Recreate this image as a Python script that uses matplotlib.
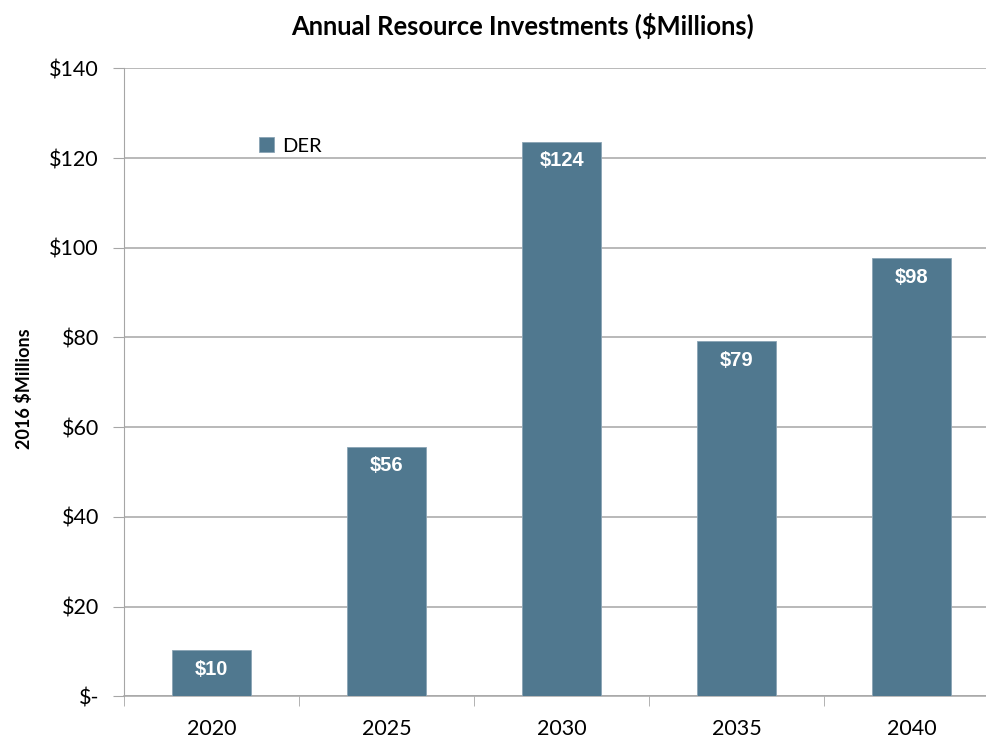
import matplotlib.pyplot as plt
import numpy as np

# Annual DER investment, 2016 $Millions
years = ["2020", "2025", "2030", "2035", "2040"]
der = [10.3, 55.6, 123.6, 79.2, 97.7]
yticks = [0, 20, 40, 60, 80, 100, 120, 140]
ytick_labels = ["$-", "$20", "$40", "$60", "$80", "$100", "$120", "$140"]

bar_color = "#50788f"
grid_color = "#a6a6a6"

plt.rcParams["font.family"] = ["Lato", "DejaVu Sans"]

W, H = 986, 735
fig = plt.figure(figsize=(W / 100, H / 100), dpi=100)
x0, x1 = 124, 124 + 875
y0, y1 = 696.3, 68.3
ax = fig.add_axes([x0 / W, (H - y0) / H, (x1 - x0) / W, (y0 - y1) / H])

x = np.arange(len(years))
bars = ax.bar(x, der, width=0.446, color=bar_color, edgecolor="#8aa4b5",
              linewidth=0.6, label="DER", zorder=3)

for b, v in zip(bars, der):
    ax.annotate(f"${v:.0f}", (b.get_x() + b.get_width() / 2, v),
                xytext=(0, -19), textcoords="offset pixels",
                ha="center", va="center", color="white", fontsize=14.5,
                fontweight="bold", family="Liberation Sans", zorder=4)

ax.set_xlim(-0.5, len(years) - 0.5)
ax.set_ylim(0, 140)
ax.set_yticks(yticks)
ax.set_yticklabels(ytick_labels, fontsize=15.5)
ax.set_xticks(x)
ax.set_xticklabels(years, fontsize=15.5)
ax.set_xticks(np.arange(len(years) + 1) - 0.5, minor=True)
ax.tick_params(axis="x", which="major", length=0, pad=16)
ax.tick_params(axis="x", which="minor", length=7, color=grid_color, direction="out")
ax.tick_params(axis="y", length=8, color=grid_color, pad=10)

ax.yaxis.grid(True, color=grid_color, linewidth=1.1, zorder=0)
ax.set_axisbelow(True)
for side in ["top", "right"]:
    ax.spines[side].set_visible(False)
ax.spines["left"].set_color(grid_color)
ax.spines["bottom"].set_color(grid_color)
ax.spines["bottom"].set_linewidth(1.1)

ax.set_ylabel("2016 $Millions", fontsize=13, fontweight="bold")
ax.yaxis.set_label_coords(-(124 - 33) / 875, 0.49)

fig.text(523 / W, 1 - 26 / H, "Annual Resource Investments ($Millions)",
         ha="center", va="center", fontsize=18.4, fontweight="bold")

ax.legend(loc="center left", bbox_to_anchor=(0.145, 0.876), frameon=False,
          fontsize=14.5, handlelength=0.75, handleheight=0.75, handletextpad=0.4,
          borderaxespad=0)

fig.savefig("out.png", dpi=100)
